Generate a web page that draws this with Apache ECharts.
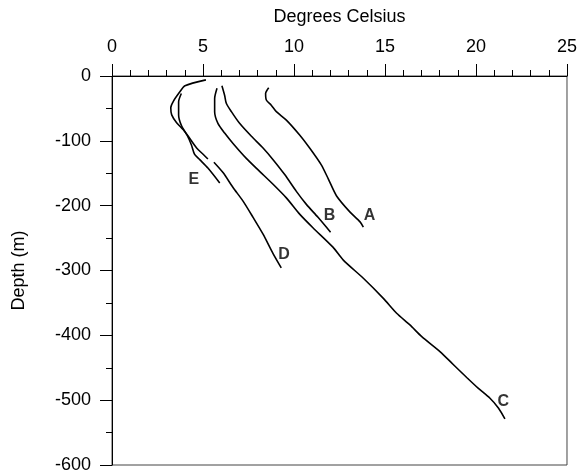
<!DOCTYPE html>
<html><head><meta charset="utf-8">
<script src="https://cdn.jsdelivr.net/npm/echarts@6/dist/echarts.min.js"></script>
<style>html,body{margin:0;padding:0;background:#fff}#c{width:580px;height:474px}</style>
</head><body><div id="c"></div>
<script>
// Temperature (°C) and depth (m) for each profile
const tempA = [8.61, 8.44, 8.48, 8.75, 9.03, 9.58, 10.31, 10.86, 11.50, 11.89, 12.34, 13.08, 13.63, 13.81];
const depthA = [-18, -27, -37, -45, -55, -68, -91, -111, -137, -159, -185, -210, -225, -233];

const tempB = [6.04, 6.19, 6.28, 6.56, 7.01, 7.66, 8.30, 8.85, 9.49, 10.13, 10.68, 11.32, 12.01];
const depthB = [-15, -30, -42, -55, -73, -93, -111, -129, -152, -178, -198, -218, -241];

const tempC = [5.77, 5.64, 5.64, 5.82, 6.19, 6.65, 7.38, 8.11, 8.85, 9.58, 10.31, 11.04, 12.14, 12.71, 13.81, 14.91, 15.64, 16.37, 17.02, 18.02, 18.75, 19.49, 20.10, 20.77, 21.23, 21.59];
const depthC = [-19, -35, -55, -73, -88, -104, -127, -147, -167, -188, -213, -234, -264, -284, -312, -343, -366, -384, -402, -425, -445, -465, -481, -497, -512, -529];

const tempD1 = [5.16, 4.01, 3.74, 3.37, 3.23, 3.28, 3.55, 3.92, 4.19, 4.65, 5.02, 5.27];
const depthD1 = [-6, -15, -24, -39, -49, -60, -72, -83, -93, -111, -121, -128];
const tempD2 = [5.60, 6.10, 6.65, 7.20, 7.75, 8.30, 8.85, 9.30];
const depthD2 = [-133, -149, -172, -193, -218, -244, -274, -296];

const tempE = [3.81, 3.66, 3.66, 3.81, 4.12, 4.36, 4.54, 4.82, 5.27, 5.92];
const depthE = [-27, -40, -60, -76, -91, -106, -121, -129, -142, -165];

// Curve labels
const labelNames = ['A', 'B', 'C', 'D', 'E'];
const labelTemps = [14.15, 11.95, 21.5, 9.45, 4.5];
const labelDepths = [-216, -216, -502, -275, -160];

const xTicks = [0, 5, 10, 15, 20, 25];
const yTicks = [0, -100, -200, -300, -400, -500, -600];

const pair = (t, d) => t.map((v, i) => [v, d[i]]);
const font = 'Liberation Sans, Arial, sans-serif';
const lineSeries = (t, d) => ({
  type: 'line', data: pair(t, d), showSymbol: false, symbol: 'none', smooth: 0.25,
  lineStyle: { color: '#000', width: 1.6 }, animation: false
});

const chart = echarts.init(document.getElementById('c'));
chart.setOption({
  animation: false,
  grid: { left: 112, right: 13, top: 76, bottom: 6, show: true, borderColor: '#444', borderWidth: 1 },
  xAxis: {
    type: 'value', position: 'top', min: xTicks[0], max: xTicks[xTicks.length - 1], interval: 5,
    name: 'Degrees Celsius', nameLocation: 'middle', nameGap: 50,
    nameTextStyle: { fontFamily: font, fontSize: 18, color: '#000' },
    axisLine: { show: true, onZero: false, lineStyle: { color: '#000', width: 1 } },
    axisTick: { show: true, inside: false, length: 12, lineStyle: { color: '#000' } },
    minorTick: { show: true, splitNumber: 5, length: 6, lineStyle: { color: '#000' } },
    axisLabel: { margin: 20, fontFamily: font, fontSize: 18, color: '#000' },
    splitLine: { show: false }
  },
  yAxis: {
    type: 'value', min: yTicks[yTicks.length - 1], max: yTicks[0], interval: 100,
    name: 'Depth (m)', nameLocation: 'middle', nameGap: 84, nameRotate: 90,
    nameTextStyle: { fontFamily: font, fontSize: 18, color: '#000' },
    axisLine: { show: true, onZero: false, lineStyle: { color: '#000', width: 1 } },
    axisTick: { show: true, inside: false, length: 12, lineStyle: { color: '#000' } },
    minorTick: { show: true, splitNumber: 2, length: 6, lineStyle: { color: '#000' } },
    axisLabel: { margin: 21, fontFamily: font, fontSize: 18, color: '#000' },
    splitLine: { show: false }
  },
  series: [
    lineSeries(tempA, depthA),
    lineSeries(tempB, depthB),
    lineSeries(tempC, depthC),
    lineSeries(tempD1, depthD1),
    lineSeries(tempD2, depthD2),
    lineSeries(tempE, depthE),
    {
      type: 'scatter', symbolSize: 0, animation: false,
      data: labelNames.map((n, i) => ({ name: n, value: [labelTemps[i], labelDepths[i]] })),
      label: { show: true, position: 'inside', formatter: p => p.name,
        fontFamily: font, fontSize: 16, fontWeight: 'bold', color: '#000' }
    }
  ]
});
</script></body></html>
